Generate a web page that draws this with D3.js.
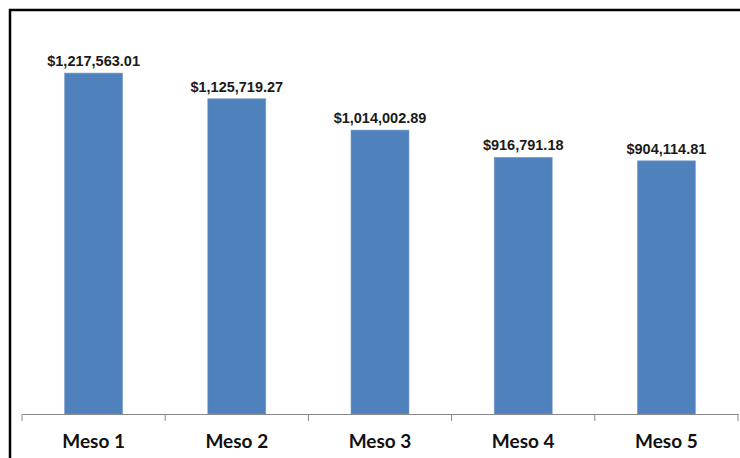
<!DOCTYPE html>
<html>
<head>
<meta charset="utf-8">
<script src="https://cdn.jsdelivr.net/npm/d3@7"></script>
<style>
  body { margin: 0; background: #fff; }
  .bar-label { font-family: "Liberation Sans", Arial, sans-serif; font-weight: bold; font-size: 14.5px; fill: #1a1a1a; }
  .cat-label { font-family: Lato, "Open Sans", sans-serif; font-weight: bold; font-size: 19px; fill: #111; }
</style>
</head>
<body>
<script>
// Chart data
var categories = ["Meso 1", "Meso 2", "Meso 3", "Meso 4", "Meso 5"];
var values = [1217563.01, 1125719.27, 1014002.89, 916791.18, 904114.81];

var width = 740, height = 458;
var svg = d3.select("body").append("svg")
    .attr("width", width)
    .attr("height", height);

// Outer frame (right and bottom edges fall outside the picture)
svg.append("rect")
    .attr("x", 10).attr("y", 10)
    .attr("width", 760).attr("height", 480)
    .attr("fill", "none")
    .attr("stroke", "#000")
    .attr("stroke-width", 2.5);

var scaleX = d3.scaleBand()
    .domain(categories)
    .range([22, 738])
    .padding(0);

var scaleY = d3.scaleLinear()
    .domain([0, 1400000])
    .range([414, 22]);

var barWidth = scaleX.bandwidth() * 0.405;
var fmt = d3.format("$,.2f");

// Bars
svg.selectAll("rect.bar")
    .data(values)
    .enter()
    .append("rect")
    .attr("class", "bar")
    .attr("x", function (d, i) { return scaleX(categories[i]) + (scaleX.bandwidth() - barWidth) / 2; })
    .attr("y", function (d) { return scaleY(d); })
    .attr("width", barWidth)
    .attr("height", function (d) { return scaleY(0) - scaleY(d); })
    .attr("fill", "#4F81BD")
    .attr("stroke", "#7a9cc8")
    .attr("stroke-width", 0.6);

// Value labels
svg.selectAll("text.bar-label")
    .data(values)
    .enter()
    .append("text")
    .attr("class", "bar-label")
    .attr("x", function (d, i) { return scaleX(categories[i]) + scaleX.bandwidth() / 2; })
    .attr("y", function (d) { return scaleY(d) - 7; })
    .attr("text-anchor", "middle")
    .text(function (d) { return fmt(d); });

// X axis
var axisX = d3.axisBottom(scaleX)
    .tickSize(0)
    .tickFormat("");
var axisG = svg.append("g")
    .attr("transform", "translate(0," + scaleY(0) + ")")
    .call(axisX);
axisG.select(".domain").attr("stroke", "#888").attr("stroke-width", 1);

// Category boundary ticks
var edges = categories.map(function (c) { return scaleX(c); }).concat([scaleX.range()[1]]);
svg.selectAll("line.edge-tick")
    .data(edges)
    .enter()
    .append("line")
    .attr("class", "edge-tick")
    .attr("x1", function (d) { return d; })
    .attr("x2", function (d) { return d; })
    .attr("y1", scaleY(0))
    .attr("y2", scaleY(0) + 7)
    .attr("stroke", "#888");

// Category labels
svg.selectAll("text.cat-label")
    .data(categories)
    .enter()
    .append("text")
    .attr("class", "cat-label")
    .attr("x", function (d) { return scaleX(d) + scaleX.bandwidth() / 2; })
    .attr("y", 448)
    .attr("text-anchor", "middle")
    .text(function (d) { return d; });
</script>
</body>
</html>
